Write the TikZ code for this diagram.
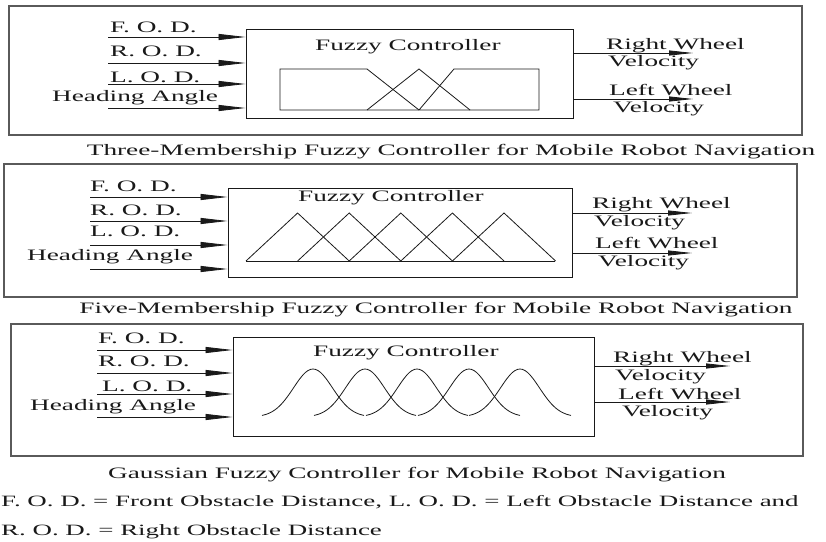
\documentclass[tikz,border=0pt]{standalone}
\usepackage{fontspec}
\setmainfont{Liberation Serif}[FakeStretch=1.71]
\usepackage{tikz}
\usetikzlibrary{arrows.meta, positioning, calc}
\definecolor{framegray}{RGB}{90,90,90}
\definecolor{inkblack}{RGB}{25,25,25}

\tikzset{
    panelframe/.style={draw=framegray, line width=1.2bp, inner sep=0pt},
    ctrlbox/.style={draw=inkblack, line width=0.9bp, inner sep=0pt},
    mfline/.style={inkblack, line width=0.8bp},
    inarrow/.style={inkblack, line width=0.8bp, -{Triangle[length=27bp,width=6bp]}},
    outarrow/.style={inkblack, line width=0.8bp, -{Triangle[length=24bp,width=5bp]}},
    lbl/.style={anchor=base west, inner sep=0pt, text=inkblack, font=\fontsize{16}{19}\selectfont},
    caption/.style={anchor=base, inner sep=0pt, text=inkblack, font=\fontsize{16}{19}\selectfont}
}

\begin{document}
\begin{tikzpicture}[x=1bp, y=-1bp]

    \useasboundingbox (0,0) rectangle (826,542);

    % Three-membership panel
    \node[panelframe, minimum width=793bp, minimum height=129bp] (panelA) at (405.5,70.5) {};
    \node[ctrlbox, minimum width=327bp, minimum height=89bp] (ctrlA) at (409.5,73.5) {};
    \node[lbl] (titleA) at (315,50.5) {Fuzzy Controller};

    \draw[mfline]
        (367,69) -- (280,69) -- (280,110) -- (539,110) -- (539,69) -- (454,69) -- (419,110);
    \draw[mfline] (367,69) -- (419,110);
    \draw[mfline] (367,110) -- (419,69) -- (470,110);

    \coordinate (fodAin) at (108,37);
    \coordinate (rodAin) at (108,63);
    \coordinate (lodAin) at (108,84);
    \coordinate (hdgAin) at (108,108);
    \node[lbl] (fodA) at (110,33) {F. O. D.};
    \node[lbl] (rodA) at (110,57) {R. O. D.};
    \node[lbl] (lodA) at (110,83) {L. O. D.};
    \node[lbl] (hdgA) at (52,102) {Heading Angle};
    \foreach \inp in {fodAin, rodAin, lodAin, hdgAin}
        \draw[inarrow] (\inp) -- (\inp -| ctrlA.west);

    \coordinate (rwAout) at (693,53);
    \coordinate (lwAout) at (693,99);
    \node[lbl] (rwA) at (606,50) {Right Wheel};
    \node[lbl] (rvA) at (608,66.5) {Velocity};
    \node[lbl] (lwA) at (609,95.5) {Left Wheel};
    \node[lbl] (lvA) at (613,113) {Velocity};
    \draw[outarrow] (rwAout -| ctrlA.east) -- (rwAout);
    \draw[outarrow] (lwAout -| ctrlA.east) -- (lwAout);

    \node[caption] (capA) at (451,156) {Three-Membership Fuzzy Controller for Mobile Robot Navigation};

    % Five-membership panel
    \node[panelframe, minimum width=793bp, minimum height=133bp] (panelB) at (400.5,230.5) {};
    \node[ctrlbox, minimum width=344bp, minimum height=89bp] (ctrlB) at (400,232.5) {};
    \node[lbl] (titleB) at (298,202) {Fuzzy Controller};

    \draw[mfline] (246,261) -- (555,261);
    \foreach \pk in {297.6, 349.2, 400.8, 452.4, 504}
        \draw[mfline] (\pk-51.6,261) -- (\pk,213) -- (\pk+51.6,261);

    \coordinate (fodBin) at (90,197);
    \coordinate (rodBin) at (90,221);
    \coordinate (lodBin) at (90,245);
    \coordinate (hdgBin) at (90,269);
    \node[lbl] (fodB) at (90,192) {F. O. D.};
    \node[lbl] (rodB) at (90,216) {R. O. D.};
    \node[lbl] (lodB) at (90,237) {L. O. D.};
    \node[lbl] (hdgB) at (27,261) {Heading Angle};
    \foreach \inp in {fodBin, rodBin, lodBin, hdgBin}
        \draw[inarrow] (\inp) -- (\inp -| ctrlB.west);

    \coordinate (rwBout) at (692,213);
    \coordinate (lwBout) at (692,253);
    \node[lbl] (rwB) at (592,209) {Right Wheel};
    \node[lbl] (rvB) at (594,226.7) {Velocity};
    \node[lbl] (lwB) at (595,249) {Left Wheel};
    \node[lbl] (lvB) at (598,267) {Velocity};
    \draw[outarrow] (rwBout -| ctrlB.east) -- (rwBout);
    \draw[outarrow] (lwBout -| ctrlB.east) -- (lwBout);

    \node[caption] (capB) at (436,314) {Five-Membership Fuzzy Controller for Mobile Robot Navigation};

    % Gaussian panel
    \node[panelframe, minimum width=792bp, minimum height=132bp] (panelC) at (407,390) {};
    \node[ctrlbox, minimum width=361bp, minimum height=99bp] (ctrlC) at (413.5,386.5) {};
    \node[lbl] (titleC) at (313,356) {Fuzzy Controller};

    \foreach \pk in {313, 365, 417, 469, 520}
        \draw[mfline, domain=-51:51, samples=41, smooth]
            plot ({\pk+\x}, {417-48*exp(-(\x*\x)/760.5)});

    \coordinate (fodCin) at (97,350);
    \coordinate (rodCin) at (97,373);
    \coordinate (lodCin) at (97,394);
    \coordinate (hdgCin) at (97,417);
    \node[lbl] (fodC) at (98,343) {F. O. D.};
    \node[lbl] (rodC) at (98,366) {R. O. D.};
    \node[lbl] (lodC) at (102,391) {L. O. D.};
    \node[lbl] (hdgC) at (30,410) {Heading Angle};
    \foreach \inp in {fodCin, rodCin, lodCin, hdgCin}
        \draw[inarrow] (\inp) -- (\inp -| ctrlC.west);

    \coordinate (rwCout) at (730,366);
    \coordinate (lwCout) at (730,402);
    \node[lbl] (rwC) at (613,362.7) {Right Wheel};
    \node[lbl] (rvC) at (615,380) {Velocity};
    \node[lbl] (lwC) at (618,399) {Left Wheel};
    \node[lbl] (lvC) at (622,416.7) {Velocity};
    \draw[outarrow] (rwCout -| ctrlC.east) -- (rwCout);
    \draw[outarrow] (lwCout -| ctrlC.east) -- (lwCout);

    \node[caption] (capC) at (417,478) {Gaussian Fuzzy Controller for Mobile Robot Navigation};

    % abbreviations
    \node[lbl, font=\fontsize{15.8}{19}\selectfont] (noteA) at (1,506) {F. O. D. = Front Obstacle Distance, L. O. D. = Left Obstacle Distance and};
    \node[lbl, font=\fontsize{15.8}{19}\selectfont] (noteB) at (1,535) {R. O. D. = Right Obstacle Distance};

\end{tikzpicture}
\end{document}
